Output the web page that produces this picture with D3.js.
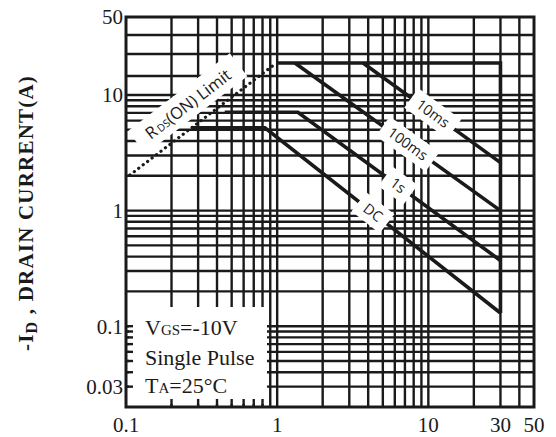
<!DOCTYPE html>
<html>
<head>
<meta charset="utf-8">
<script src="https://cdn.jsdelivr.net/npm/d3@7"></script>
<style>
  body { margin: 0; background: #fff; }
  svg { display: block; }
</style>
</head>
<body>
<svg id="chart" width="556" height="437"></svg>
<script>
// axis ticks and grid
const xTicks = [0.1, 1, 10, 30, 50];
const xTickLabels = ["0.1", "1", "10", "30", "50"];
const yTicks = [0.03, 0.1, 1, 10, 50];
const yTickLabels = ["0.03", "0.1", "1", "10", "50"];
const xGrid = [0.2, 0.3, 0.4, 0.5, 0.6, 0.7, 0.8, 0.9, 1, 2, 3, 4, 5, 6, 7, 8, 9, 10, 20, 30, 40];
const yGrid = [0.03, 0.04, 0.05, 0.06, 0.07, 0.08, 0.09, 0.1, 0.2, 0.3, 0.4, 0.5, 0.6, 0.7, 0.8, 0.9,
               1, 2, 3, 4, 5, 6, 7, 8, 9, 10, 20, 30, 40];

// SOA curves, [VDS, ID]
const boundary = [[1, 25.4], [30, 25.4], [30, 0.13]];
const pulse10ms = [[3.7, 25.4], [30, 2.6]];
const pulse100ms = [[1.31, 25.4], [30, 1.0]];
const pulse1s = [[0.45, 7.1], [1.37, 7.1], [30, 0.37]];
const dcCurve = [[0.27, 5.2], [0.83, 5.2], [30, 0.13]];
const rdsLimit = [[0.106, 2.03], [0.95, 24.5]];

const curveNames = ["10ms", "100ms", "1s", "DC"];
const curveData = [pulse10ms, pulse100ms, pulse1s, dcCurve];
const labelAt = [10.7, 7.3, 6.3, 4.3];   // VDS where each label sits

const svg = d3.select("#chart");
const plotL = 126, plotR = 534, plotT = 17, plotB = 407;

const x = d3.scaleLog().domain([0.1, 50]).range([plotL, plotR]);
// the printed grid is squeezed above 10 A
const y = d3.scaleLog().domain([0.02, 10, 20, 30, 40, 50]).range([plotB, 95, 76, 54, 35, 17]);

const ink = "#1a1a1a";
const serif = "'Liberation Serif', 'Times New Roman', serif";
const sans = "'Open Sans', 'DejaVu Sans', sans-serif";

// grid
const grid = svg.append("g").attr("stroke", ink).attr("stroke-width", 2.4);
grid.selectAll("line.v").data(xGrid).enter().append("line")
  .attr("x1", d => x(d)).attr("x2", d => x(d))
  .attr("y1", plotT).attr("y2", plotB);
grid.selectAll("line.h").data(yGrid).enter().append("line")
  .attr("x1", plotL).attr("x2", plotR)
  .attr("y1", d => y(d)).attr("y2", d => y(d));

// white panel for test conditions
svg.append("rect")
  .attr("x", plotL + 3).attr("y", 307)
  .attr("width", 138).attr("height", plotB - 310)
  .attr("fill", "#fff");

// short edge ticks inside the panel
svg.append("g").attr("stroke", ink).attr("stroke-width", 2.4)
  .selectAll("line").data(xGrid.filter(d => d < 0.85)).enter().append("line")
  .attr("x1", d => x(d)).attr("x2", d => x(d))
  .attr("y1", plotB).attr("y2", plotB - 8);
svg.append("g").attr("stroke", ink).attr("stroke-width", 2.4)
  .selectAll("line").data(yGrid.filter(d => d <= 0.1)).enter().append("line")
  .attr("x1", plotL).attr("x2", plotL + 7)
  .attr("y1", d => y(d)).attr("y2", d => y(d));

// frame
svg.append("rect")
  .attr("x", plotL).attr("y", plotT)
  .attr("width", plotR - plotL).attr("height", plotB - plotT)
  .attr("fill", "none").attr("stroke", ink).attr("stroke-width", 3);

const line = d3.line().x(d => x(d[0])).y(d => y(d[1]));

// RDS(on) limit, dotted
svg.append("path").datum(rdsLimit)
  .attr("d", line)
  .attr("fill", "none").attr("stroke", ink)
  .attr("stroke-width", 3.2).attr("stroke-linecap", "round")
  .attr("stroke-dasharray", "0.1 5.5");

// RDS label with white backing
const rA = [x(rdsLimit[0][0]), y(rdsLimit[0][1])];
const rB = [x(rdsLimit[1][0]), y(rdsLimit[1][1])];
const rAngle = Math.atan2(rB[1] - rA[1], rB[0] - rA[0]) * 180 / Math.PI;
const rds = svg.append("g").attr("transform", `translate(188,104) rotate(${rAngle})`);
rds.append("rect").attr("x", -64).attr("y", -15).attr("width", 128).attr("height", 29).attr("fill", "#fff");
const rdsText = rds.append("text")
  .attr("text-anchor", "middle").attr("y", 6)
  .attr("font-family", sans).attr("font-size", 16.5).attr("fill", ink);
rdsText.append("tspan").text("R");
rdsText.append("tspan").attr("font-size", 10.5).attr("dx", 2).text("DS");
rdsText.append("tspan").text("(ON) Limit");

// boundary and pulse curves
svg.append("path").datum(boundary)
  .attr("d", line)
  .attr("fill", "none").attr("stroke", ink).attr("stroke-width", 3.6)
  .attr("stroke-linejoin", "miter");

curveData.forEach((c, i) => {
  svg.append("path").datum(c)
    .attr("d", line)
    .attr("fill", "none").attr("stroke", ink).attr("stroke-width", 3.6);
});

// labels sitting on the curves
curveData.forEach((c, i) => {
  const a = c[c.length - 2], b = c[c.length - 1];
  const p0 = [x(a[0]), y(a[1])], p1 = [x(b[0]), y(b[1])];
  const px = x(labelAt[i]);
  const t = (px - p0[0]) / (p1[0] - p0[0]);
  const py = p0[1] + t * (p1[1] - p0[1]);
  const ang = Math.atan2(p1[1] - p0[1], p1[0] - p0[0]) * 180 / Math.PI;
  const g = svg.append("g").attr("transform", `translate(${px},${py}) rotate(${ang})`);
  const txt = g.append("text")
    .attr("text-anchor", "middle").attr("y", 5)
    .attr("font-family", sans).attr("font-size", 14.5).attr("fill", ink)
    .text(curveNames[i]);
  const w = txt.node().getComputedTextLength() + 16;
  g.insert("rect", "text")
    .attr("x", -w / 2).attr("y", -12).attr("width", w).attr("height", 24)
    .attr("fill", "#fff");
});

// tick labels
svg.append("g").selectAll("text").data(xTicks).enter().append("text")
  .attr("x", d => x(d)).attr("y", 432)
  .attr("text-anchor", "middle")
  .attr("font-family", serif).attr("font-size", 21).attr("fill", ink)
  .text((d, i) => xTickLabels[i]);

svg.append("g").selectAll("text").data(yTicks).enter().append("text")
  .attr("x", plotL - 3).attr("y", d => y(d))
  .attr("dy", "0.35em")
  .attr("text-anchor", "end")
  .attr("font-family", serif).attr("font-size", 21).attr("fill", ink)
  .text((d, i) => yTickLabels[i]);

// axis title
const yTitle = svg.append("text")
  .attr("transform", "translate(33,213) rotate(-90)")
  .attr("text-anchor", "middle")
  .attr("letter-spacing", 1.2)
  .attr("font-family", serif).attr("font-size", 21).attr("font-weight", "bold").attr("fill", ink);
yTitle.append("tspan").text("-I");
yTitle.append("tspan").attr("font-size", 16).attr("dy", 4).text("D");
yTitle.append("tspan").attr("dy", -4).text(" , DRAIN CURRENT(A)");

// test conditions
const cond = svg.append("g")
  .attr("font-family", serif).attr("font-size", 22).attr("fill", ink);
const c1 = cond.append("text").attr("x", 145).attr("y", 335);
c1.append("tspan").text("V");
c1.append("tspan").attr("font-size", 15).text("GS");
c1.append("tspan").text("=-10V");
cond.append("text").attr("x", 145).attr("y", 365).text("Single Pulse");
const c3 = cond.append("text").attr("x", 145).attr("y", 393);
c3.append("tspan").text("T");
c3.append("tspan").attr("font-size", 15).text("A");
c3.append("tspan").text("=25°C");
</script>
</body>
</html>
